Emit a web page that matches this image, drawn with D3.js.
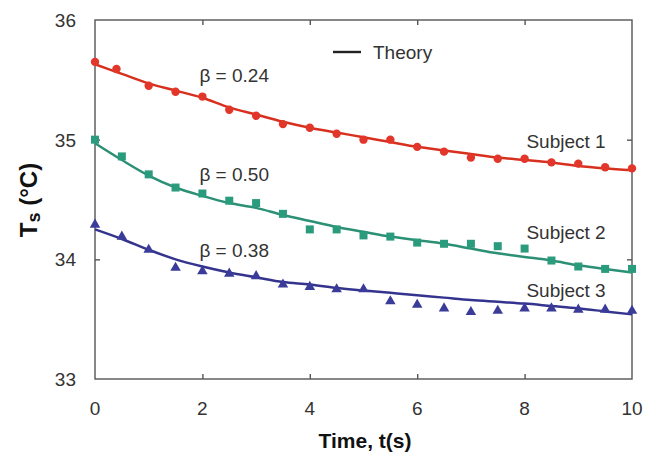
<!DOCTYPE html>
<html>
<head>
<meta charset="utf-8">
<script src="https://cdn.jsdelivr.net/npm/d3@7"></script>
<style>
  html, body { margin: 0; padding: 0; background: #fff; }
  svg { display: block; font-family: Arial, "Liberation Sans", sans-serif; }
</style>
</head>
<body>
<svg id="chart" width="655" height="457"></svg>
<script>
// Measured skin temperature (°C) over time (s) for three subjects
const timeS1 = [0, 0.4, 1, 1.5, 2, 2.5, 3, 3.5, 4, 4.5, 5, 5.5, 6, 6.5, 7, 7.5, 8, 8.5, 9, 9.5, 10];
const timeS23 = [0, 0.5, 1, 1.5, 2, 2.5, 3, 3.5, 4, 4.5, 5, 5.5, 6, 6.5, 7, 7.5, 8, 8.5, 9, 9.5, 10];
const subject1 = [35.65, 35.59, 35.45, 35.40, 35.36, 35.25, 35.20, 35.13, 35.10, 35.05, 35.00, 35.00, 34.94, 34.90, 34.85, 34.84, 34.84, 34.81, 34.80, 34.77, 34.76];
const subject2 = [35.00, 34.86, 34.71, 34.60, 34.55, 34.49, 34.47, 34.38, 34.25, 34.25, 34.20, 34.19, 34.14, 34.13, 34.13, 34.11, 34.09, 33.99, 33.94, 33.92, 33.92];
const subject3 = [34.29, 34.19, 34.08, 33.93, 33.90, 33.88, 33.86, 33.79, 33.77, 33.75, 33.75, 33.65, 33.62, 33.59, 33.56, 33.57, 33.59, 33.59, 33.58, 33.58, 33.57];

// Theory curves sampled every 0.5 s
const theoryTime = [0, 0.5, 1, 1.5, 2, 2.5, 3, 3.5, 4, 4.5, 5, 5.5, 6, 6.5, 7, 7.5, 8, 8.5, 9, 9.5, 10];
const theory1 = [35.63, 35.55, 35.47, 35.41, 35.35, 35.27, 35.21, 35.15, 35.10, 35.06, 35.02, 34.98, 34.94, 34.91, 34.88, 34.85, 34.83, 34.81, 34.78, 34.76, 34.745];
const theory2 = [34.97, 34.83, 34.70, 34.60, 34.53, 34.47, 34.43, 34.37, 34.32, 34.27, 34.23, 34.19, 34.16, 34.13, 34.09, 34.05, 34.02, 33.99, 33.95, 33.92, 33.89];
const theory3 = [34.25, 34.17, 34.08, 34.00, 33.94, 33.89, 33.85, 33.81, 33.79, 33.76, 33.74, 33.72, 33.70, 33.68, 33.66, 33.645, 33.63, 33.61, 33.59, 33.565, 33.54];

const betaLabels = ["β = 0.24", "β = 0.50", "β = 0.38"];
const subjectLabels = ["Subject 1", "Subject 2", "Subject 3"];
const xTicks = [0, 2, 4, 6, 8, 10];
const yTicks = [33, 34, 35, 36];

const svg = d3.select("#chart");
const x = d3.scaleLinear().domain([0, 10]).range([95, 632]);
const y = d3.scaleLinear().domain([33, 36]).range([379, 20]);

const series = [
  { t: timeS1, v: subject1, th: theory1, color: "#e2362a", line: "#d8301f", shape: "circle" },
  { t: timeS23, v: subject2, th: theory2, color: "#2a9b7d", line: "#2b9075", shape: "square" },
  { t: timeS23, v: subject3, th: theory3, color: "#3b3b9a", line: "#34348f", shape: "triangle" }
];

// Frame and inward ticks
const frame = svg.append("g").attr("stroke", "#555").attr("stroke-width", 1.4).attr("fill", "none");
frame.append("rect").attr("x", x(0)).attr("y", y(36)).attr("width", x(10) - x(0)).attr("height", y(33) - y(36));
const xAxB = d3.axisBottom(x).tickValues(xTicks.slice(1, -1)).tickSize(-5).tickFormat("");
const xAxT = d3.axisTop(x).tickValues(xTicks.slice(1, -1)).tickSize(-5).tickFormat("");
const yAxL = d3.axisLeft(y).tickValues(yTicks.slice(1, -1)).tickSize(-5).tickFormat("");
const yAxR = d3.axisRight(y).tickValues(yTicks.slice(1, -1)).tickSize(-5).tickFormat("");
[[xAxB, `translate(0,${y(33)})`], [xAxT, `translate(0,${y(36)})`], [yAxL, `translate(${x(0)},0)`], [yAxR, `translate(${x(10)},0)`]]
  .forEach(([ax, tr]) => {
    const g = svg.append("g").attr("transform", tr).call(ax);
    g.select(".domain").remove();
    g.selectAll("line").attr("stroke", "#555").attr("stroke-width", 1.4);
  });

// Tick labels
svg.append("g").selectAll("text").data(xTicks).join("text")
  .attr("x", d => x(d)).attr("y", 415).attr("text-anchor", "middle")
  .attr("font-size", 19).attr("fill", "#333").text(d => d);
svg.append("g").selectAll("text").data(yTicks).join("text")
  .attr("x", 76).attr("y", d => y(d) + 7).attr("text-anchor", "end")
  .attr("font-size", 19).attr("fill", "#333").text(d => d);

// Axis titles
svg.append("text").attr("x", 365).attr("y", 448).attr("text-anchor", "middle")
  .attr("font-size", 21).attr("font-weight", "bold").attr("fill", "#111").text("Time, t(s)");
const yt = svg.append("text").attr("transform", "translate(37,200) rotate(-90)")
  .attr("text-anchor", "middle").attr("font-size", 24).attr("font-weight", "bold").attr("fill", "#111");
yt.append("tspan").text("T");
yt.append("tspan").attr("font-size", 18).attr("dy", 3).text("s");
yt.append("tspan").attr("dy", -3).text(" (°C)");

// Theory lines
const line = d3.line().x(d => x(d[0])).y(d => y(d[1])).curve(d3.curveMonotoneX);
series.forEach(s => {
  svg.append("path").datum(theoryTime.map((t, i) => [t, s.th[i]]))
    .attr("d", line).attr("fill", "none").attr("stroke", s.line).attr("stroke-width", 2.5);
});

// Measured markers
series.forEach(s => {
  const pts = s.t.map((t, i) => [t, s.v[i]]);
  const g = svg.append("g").attr("fill", s.color);
  if (s.shape === "circle") {
    g.selectAll("circle").data(pts).join("circle")
      .attr("cx", d => x(d[0])).attr("cy", d => y(d[1])).attr("r", 4.2);
  } else if (s.shape === "square") {
    g.selectAll("rect").data(pts).join("rect")
      .attr("x", d => x(d[0]) - 4).attr("y", d => y(d[1]) - 4).attr("width", 8).attr("height", 8);
  } else {
    const tri = d3.symbol().type(d3.symbolTriangle).size(48);
    g.selectAll("path").data(pts).join("path")
      .attr("transform", d => `translate(${x(d[0])},${y(d[1])})`).attr("d", tri);
  }
});

// Annotations
const betaPos = [[2.0, 35.54], [2.0, 34.71], [2.0, 34.08]];
svg.append("g").selectAll("text").data(betaLabels).join("text")
  .attr("x", (d, i) => x(betaPos[i][0]) - 3).attr("y", (d, i) => y(betaPos[i][1]) + 7)
  .attr("font-size", 19).attr("fill", "#333").text(d => d);
const subjPos = [[8.5, 34.99], [8.5, 34.23], [8.5, 33.74]];
svg.append("g").selectAll("text").data(subjectLabels).join("text")
  .attr("x", (d, i) => x(subjPos[i][0]) - 25).attr("y", (d, i) => y(subjPos[i][1]) + 7)
  .attr("font-size", 19).attr("fill", "#333").text(d => d);

// Legend
svg.append("line").attr("x1", 333).attr("x2", 361).attr("y1", 52).attr("y2", 52)
  .attr("stroke", "#222").attr("stroke-width", 2.4);
svg.append("text").attr("x", 373).attr("y", 59).attr("font-size", 19).attr("fill", "#333").text("Theory");
</script>
</body>
</html>
